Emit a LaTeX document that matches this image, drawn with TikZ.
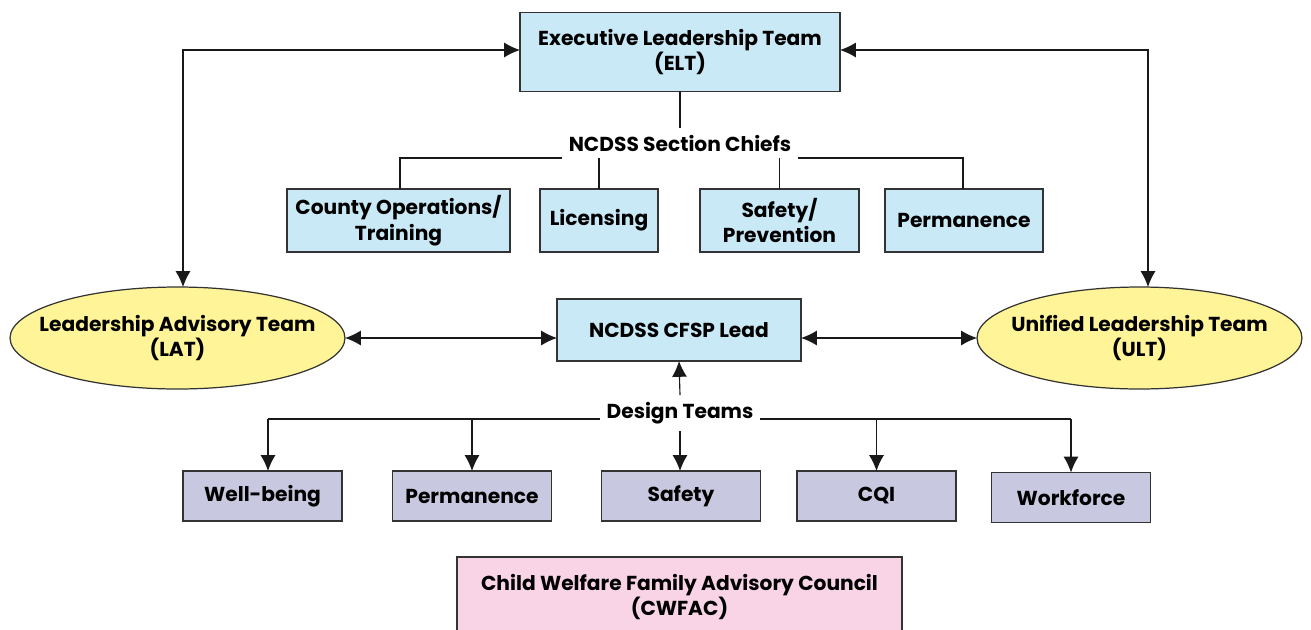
\documentclass[tikz,border=0pt]{standalone}
\usepackage{fontspec}
\setmainfont{Poppins}
\usetikzlibrary{arrows.meta,shapes.geometric,positioning}
\definecolor{leadblue}{RGB}{201,233,247}
\definecolor{teamyellow}{RGB}{255,245,152}
\definecolor{designlav}{RGB}{200,200,224}
\definecolor{councilpink}{RGB}{248,212,230}
\tikzset{
  lbl/.style={font=\bfseries\fontsize{11.5}{14.5}\selectfont, align=center, inner sep=4pt, outer sep=0pt},
  bluebox/.style={lbl, draw=black!80, line width=0.8pt, fill=leadblue, inner sep=0pt},
  lavbox/.style={lbl, draw=black!80, line width=0.8pt, fill=designlav, inner sep=0pt,
    minimum width=3.18cm, minimum height=1cm},
  teamell/.style={lbl, ellipse, draw=black!80, line width=0.7pt, fill=teamyellow,
    inner xsep=-0.5cm, inner ysep=0pt, minimum height=2.04cm},
  link/.style={line width=0.65pt, black!90},
  both/.style={link, {Latex[length=9pt,width=8.5pt]}-{Latex[length=9pt,width=8.5pt]}},
  down/.style={link, -{Latex[length=9pt,width=8.5pt]}}
}
\begin{document}
\begin{tikzpicture}[x=0.02cm, y=-0.02cm]
\clip (0,0) rectangle (1311,629);
\fill[white] (0,0) rectangle (1311,629);

\node[bluebox, minimum width=6.4cm, minimum height=1.58cm] (elt) at (680,52) {Executive Leadership Team\\(ELT)};
\node[lbl] (chiefs) at (680,143) {NCDSS Section Chiefs};

\node[bluebox, minimum width=4.46cm, minimum height=1.26cm] (county) at (398.5,220.5) {County Operations/\\Training};
\node[bluebox, minimum width=2.36cm, minimum height=1.26cm] (lic) at (599,220.5) {Licensing};
\node[bluebox, minimum width=3.18cm, minimum height=1.26cm] (safeprev) at (779.5,220.5) {Safety/\\Prevention};
\node[bluebox, minimum width=3.16cm, minimum height=1.26cm] (perm) at (964,220.5) {Permanence};

\node[teamell, minimum width=6.7cm] (lat) at (177.5,338) {Leadership Advisory Team\\(LAT)};
\node[teamell, minimum width=6.5cm] (ult) at (1139.5,338) {Unified Leadership Team\\(ULT)};
\node[bluebox, minimum width=4.88cm, minimum height=1.24cm] (cfsp) at (679,330) {NCDSS CFSP Lead};

\node[lbl] (design) at (680,413) {Design Teams};
\node[lavbox] (well) at (262.5,496) {Well-being};
\node[lavbox] (dperm) at (472,496) {Permanence};
\node[lavbox] (safety) at (681,496) {Safety};
\node[lavbox] (cqi) at (876.5,496) {CQI};
\node[lavbox] (work) at (1071,497.5) {Workforce};

\node[bluebox, fill=councilpink, minimum width=8.9cm, minimum height=1.6cm] (cwfac) at (679.5,597)
  {Child Welfare Family Advisory Council\\(CWFAC)};

\coordinate (eltl) at (520,50);
\coordinate (eltr) at (840,50);
\coordinate (chl) at (400,158);
\coordinate (chr) at (963,158);
\coordinate (dtl) at (268,419);
\coordinate (dtr) at (1071,419);

\draw[both] (lat.north -| 183,0) |- (eltl);
\draw[both] (ult.north -| 1148,0) |- (eltr);

\draw[link] (elt.south) -- (chiefs.north);
\draw[link] (chiefs.west |- chl) -- (chl) -- (county.north -| chl);
\draw[link] (chiefs.east |- chr) -- (chr) -- (perm.north -| chr);
\draw[link] (chiefs.south -| lic.north) -- (lic.north);
\draw[link] (chiefs.south -| safeprev.north) -- (safeprev.north);

\draw[both] (lat.east) -- (cfsp.west |- lat.east);
\draw[both] (cfsp.east |- ult.west) -- (ult.west);

\draw[down] (design.north) -- (cfsp.south);
\draw[link] (design.west |- dtl) -- (dtl);
\draw[link] (design.east |- dtr) -- (dtr);
\draw[down] (dtl) -- (well.north -| dtl);
\draw[down] (dperm.north |- dtl) -- (dperm.north);
\draw[down] (design.south) -- (safety.north -| design.south);
\draw[down] (cqi.north |- dtr) -- (cqi.north);
\draw[down] (dtr) -- (work.north);
\end{tikzpicture}
\end{document}
